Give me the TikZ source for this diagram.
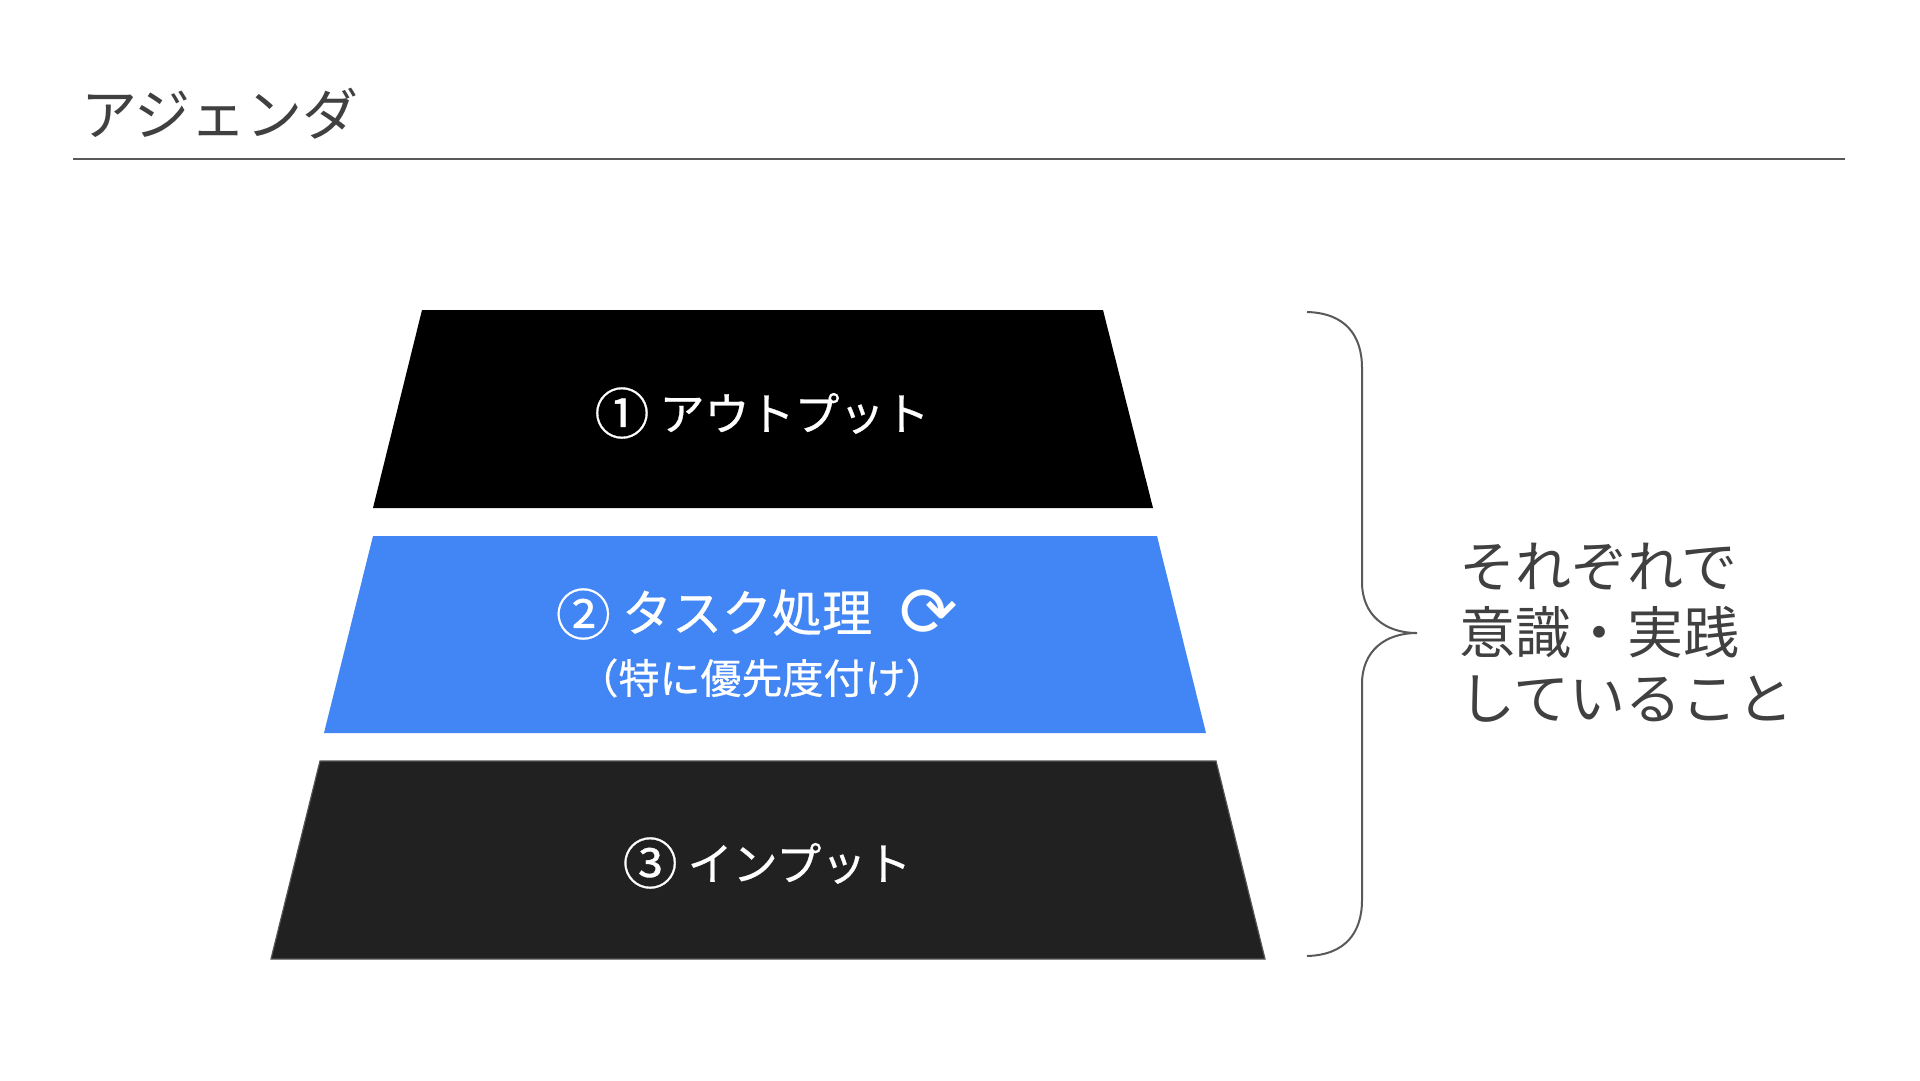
\documentclass[tikz,border=0pt]{standalone}
\usepackage{fontspec}
\setmainfont{Noto Sans CJK JP}
\newfontfamily\lblfont[RawFeature={embolden=0.6}]{Noto Sans CJK JP}
\newfontfamily\symfont{DejaVu Sans}
\definecolor{txtgray}{HTML}{404040}
\definecolor{rulegray}{HTML}{595959}
\definecolor{gblue}{HTML}{4285F4}
\definecolor{darkfill}{HTML}{212121}
\definecolor{edgegray}{HTML}{555555}
\newcommand\circnum[1]{\raisebox{-3.5pt}{\fontsize{55}{55}\selectfont #1}}
\tikzset{
  lbl/.style={inner sep=0pt, text=white, font=\lblfont\fontsize{45}{54}\selectfont},
  lblbig/.style={inner sep=0pt, text=white, font=\lblfont\fontsize{50}{58}\selectfont},
  sublbl/.style={inner sep=0pt, text=white, font=\lblfont\fontsize{41}{48}\selectfont},
  sidetext/.style={inner sep=0pt, text=txtgray, align=left, font=\fontsize{56}{66}\selectfont},
  titletext/.style={inner sep=0pt, text=txtgray, font=\fontsize{56}{64}\selectfont},
  rule/.style={draw=rulegray, line width=2pt},
  bracestyle/.style={draw=rulegray, line width=2pt},
}
\begin{document}
\begin{tikzpicture}[x=1pt,y=-1pt]
\useasboundingbox (0,0) rectangle (1920,1080);
\fill[white] (0,0) rectangle (1920,1080);
% title
\node[titletext, anchor=west] (title) at (81,114) {アジェンダ};
\coordinate (la) at (73,159);
\coordinate (lb) at (1845,159);
\draw[rule] (la) -- (lb);
% pyramid levels
\fill[black] (422,310) -- (1103,310) -- (1153,508) -- (373,508) -- cycle;
\node[lbl] (t1) at (762,413) {\circnum{①} アウトプット};
\fill[gblue] (373,536) -- (1157,536) -- (1206,733) -- (324,733) -- cycle;
\node[lblbig] (t2a) at (757,614) {\circnum{②} タスク処理\hspace{0.55em}\raisebox{-5pt}{\symfont\fontsize{70}{70}\selectfont ⟳}};
\node[sublbl] (t2b) at (762,678) {（特に優先度付け）};
\filldraw[fill=darkfill, draw=edgegray, line width=1.2pt] (320,761) -- (1216,761) -- (1265,959) -- (271,959) -- cycle;
\node[lbl] (t3) at (767,863) {\circnum{③} インプット};
% brace
\draw[bracestyle] (1307,312) .. controls (1345,313) and (1362,335) .. (1362,368)
  -- (1362,582) .. controls (1362,615) and (1385,633) .. (1417,633)
  .. controls (1385,633) and (1362,651) .. (1362,684)
  -- (1362,900) .. controls (1362,933) and (1345,955) .. (1307,956);
\node[sidetext, anchor=west] (side) at (1459,633) {それぞれで\\意識・実践\\していること};
\end{tikzpicture}
\end{document}
